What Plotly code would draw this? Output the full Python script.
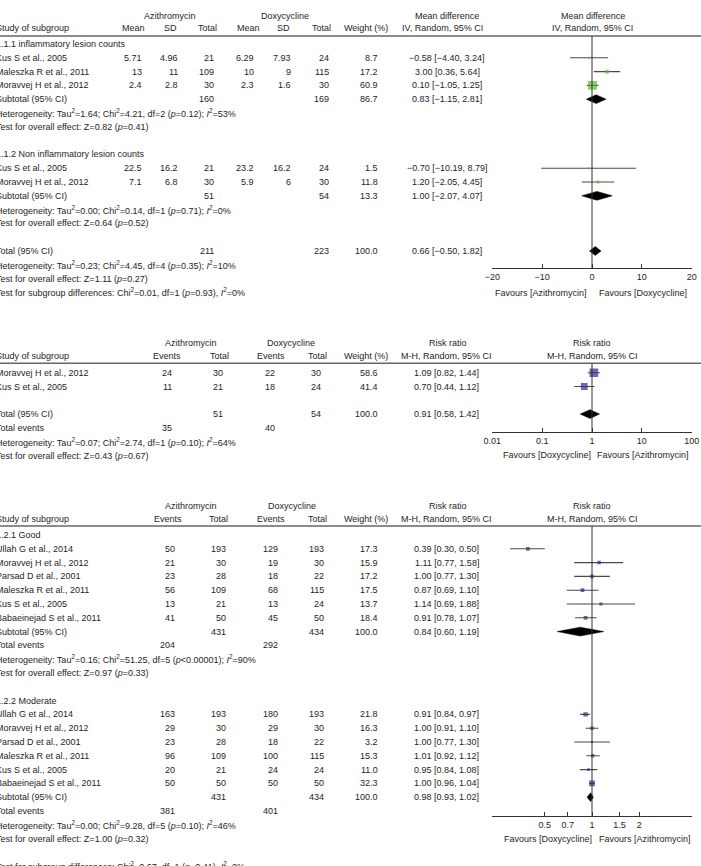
import math
import plotly.graph_objects as go

# ---------------- DATA ----------------
# Panel 1: mean difference (lesion counts)
md_g1_study = ["Kus S et al., 2005", "Maleszka R et al., 2011", "Moravvej H et al., 2012"]
md_g1_azi_mean = [5.71, 13, 2.4]
md_g1_azi_sd = [4.96, 11, 2.8]
md_g1_azi_n = [21, 109, 30]
md_g1_dox_mean = [6.29, 10, 2.3]
md_g1_dox_sd = [7.93, 9, 1.6]
md_g1_dox_n = [24, 115, 30]
md_g1_weight = [8.7, 17.2, 60.9]
md_g1_est = [-0.58, 3.00, 0.10]
md_g1_lo = [-4.40, 0.36, -1.05]
md_g1_hi = [3.24, 5.64, 1.25]

md_g2_study = ["Kus S et al., 2005", "Moravvej H et al., 2012"]
md_g2_azi_mean = [22.5, 7.1]
md_g2_azi_sd = [16.2, 6.8]
md_g2_azi_n = [21, 30]
md_g2_dox_mean = [23.2, 5.9]
md_g2_dox_sd = [16.2, 6]
md_g2_dox_n = [24, 30]
md_g2_weight = [1.5, 11.8]
md_g2_est = [-0.70, 1.20]
md_g2_lo = [-10.19, -2.05]
md_g2_hi = [8.79, 4.45]

md_pool_label = ["Subtotal (95% CI)", "Subtotal (95% CI)", "Total (95% CI)"]
md_pool_azi_n = [160, 51, 211]
md_pool_dox_n = [169, 54, 223]
md_pool_weight = [86.7, 13.3, 100.0]
md_pool_est = [0.83, 1.00, 0.66]
md_pool_lo = [-1.15, -2.07, -0.50]
md_pool_hi = [2.81, 4.07, 1.82]

md_subgroups = ["1.1.1 inflammatory lesion counts", "1.1.2 Non inflammatory lesion counts"]
md_het = [
    "Heterogeneity: Tau<sup>2</sup>=1.64; Chi<sup>2</sup>=4.21, df=2 (<i>p</i>=0.12); <i>I</i><sup>2</sup>=53%",
    "Heterogeneity: Tau<sup>2</sup>=0.00; Chi<sup>2</sup>=0.14, df=1 (<i>p</i>=0.71); <i>I</i><sup>2</sup>=0%",
    "Heterogeneity: Tau<sup>2</sup>=0.23; Chi<sup>2</sup>=4.45, df=4 (<i>p</i>=0.35); <i>I</i><sup>2</sup>=10%",
]
md_test = [
    "Test for overall effect: Z=0.82 (<i>p</i>=0.41)",
    "Test for overall effect: Z=0.64 (<i>p</i>=0.52)",
    "Test for overall effect: Z=1.11 (<i>p</i>=0.27)",
]
md_subdiff = "Test for subgroup differences: Chi<sup>2</sup>=0.01, df=1 (<i>p</i>=0.93), <i>I</i><sup>2</sup>=0%"
md_ticks = [-20, -10, 0, 10, 20]
md_ticktext = ["\u221220", "\u221210", "0", "10", "20"]

# Panel 2: risk ratio
rr_study = ["Moravvej H et al., 2012", "Kus S et al., 2005"]
rr_azi_ev = [24, 11]
rr_azi_n = [30, 21]
rr_dox_ev = [22, 18]
rr_dox_n = [30, 24]
rr_weight = [58.6, 41.4]
rr_est = [1.09, 0.70]
rr_lo = [0.82, 0.44]
rr_hi = [1.44, 1.12]
rr_tot_azi_n, rr_tot_dox_n = 51, 54
rr_tot_azi_ev, rr_tot_dox_ev = 35, 40
rr_tot_weight, rr_tot_est, rr_tot_lo, rr_tot_hi = 100.0, 0.91, 0.58, 1.42
rr_het = "Heterogeneity: Tau<sup>2</sup>=0.07; Chi<sup>2</sup>=2.74, df=1 (<i>p</i>=0.10); <i>I</i><sup>2</sup>=64%"
rr_test = "Test for overall effect: Z=0.43 (<i>p</i>=0.67)"
rr_ticks = [0.01, 0.1, 1, 10, 100]
rr_ticktext = ["0.01", "0.1", "1", "10", "100"]

# Panel 3: risk ratio by subgroup
sg_study = ["Ullah G et al., 2014", "Moravvej H et al., 2012", "Parsad D et al., 2001",
            "Maleszka R et al., 2011", "Kus S et al., 2005", "Babaeinejad S et al., 2011"]
good_azi_ev = [50, 21, 23, 56, 13, 41]
good_azi_n = [193, 30, 28, 109, 21, 50]
good_dox_ev = [129, 19, 18, 68, 13, 45]
good_dox_n = [193, 30, 22, 115, 24, 50]
good_weight = [17.3, 15.9, 17.2, 17.5, 13.7, 18.4]
good_est = [0.39, 1.11, 1.00, 0.87, 1.14, 0.91]
good_lo = [0.30, 0.77, 0.77, 0.69, 0.69, 0.78]
good_hi = [0.50, 1.58, 1.30, 1.10, 1.88, 1.07]

mod_azi_ev = [163, 29, 23, 96, 20, 50]
mod_azi_n = [193, 30, 28, 109, 21, 50]
mod_dox_ev = [180, 29, 18, 100, 24, 50]
mod_dox_n = [193, 30, 22, 115, 24, 50]
mod_weight = [21.8, 16.3, 3.2, 15.3, 11.0, 32.3]
mod_est = [0.91, 1.00, 1.00, 1.01, 0.95, 1.00]
mod_lo = [0.84, 0.91, 0.77, 0.92, 0.84, 0.96]
mod_hi = [0.97, 1.10, 1.30, 1.12, 1.08, 1.04]

sg_names = ["1.2.1 Good", "1.2.2 Moderate"]
sg_sub_azi_n = [431, 431]
sg_sub_dox_n = [434, 434]
sg_sub_azi_ev = [204, 381]
sg_sub_dox_ev = [292, 401]
sg_sub_weight = [100.0, 100.0]
sg_sub_est = [0.84, 0.98]
sg_sub_lo = [0.60, 0.93]
sg_sub_hi = [1.19, 1.02]
sg_het = [
    "Heterogeneity: Tau<sup>2</sup>=0.16; Chi<sup>2</sup>=51.25, df=5 (<i>p</i>&lt;0.00001); <i>I</i><sup>2</sup>=90%",
    "Heterogeneity: Tau<sup>2</sup>=0.00; Chi<sup>2</sup>=9.28, df=5 (<i>p</i>=0.10); <i>I</i><sup>2</sup>=46%",
]
sg_test = [
    "Test for overall effect: Z=0.97 (<i>p</i>=0.33)",
    "Test for overall effect: Z=1.00 (<i>p</i>=0.32)",
]
sg_subdiff = "Test for subgroup differences: Chi<sup>2</sup>=0.67, df=1 (<i>p</i>=0.41), <i>I</i><sup>2</sup>=0%"
sg_ticks = [0.5, 0.7, 1, 1.5, 2]
sg_ticktext = ["0.5", "0.7", "1", "1.5", "2"]

# ---------------- LAYOUT / STYLE ----------------
W, H = 701, 866
FONT = "Arial, Liberation Sans, sans-serif"
TXT = "#1e1e1e"
GREEN = "#58b82d"
NAVY = "#2e2b88"
CILINE = "#4a4a4a"
S = 13.8          # row pitch in px
LEFT = -4         # study-name column (partly cropped in the reference)
PX0, PX1 = 492.3, 691.7
DH = 0.32         # diamond half height (rows)

P1 = dict(h1=16, h2=28, rule=36, r0=44, axis=268.3)
P2 = dict(h1=343.3, h2=356, rule=363.3, r0=372.7, axis=432.3)
P3 = dict(h1=506, h2=519, rule=526, r0=535, axis=815.7)

ann = []
shapes = []


def put(x, y, s, anchor="left"):
    ann.append(dict(xref="paper", yref="paper", x=x / W, y=1 - y / H, text=s,
                    showarrow=False, xanchor=anchor, yanchor="middle",
                    borderpad=0, borderwidth=0,
                    font=dict(family=FONT, size=9, color=TXT)))


def rowy(P, i):
    return P["r0"] + i * S


def num(v):
    return f"{v:g}"


def ci(e, l, h):
    return f"{e:.2f} [{l:.2f}, {h:.2f}]".replace("-", "\u2212")


def msize(w):
    return max(2.0, 0.5 * w ** 0.7)


fig = go.Figure()


def add_studies(xa, ya, rows, est, lo, hi, wts, color):
    xs, ys = [], []
    for r, l, h in zip(rows, lo, hi):
        xs += [l, h, None]
        ys += [r, r, None]
    fig.add_trace(go.Scatter(x=xs, y=ys, mode="lines", xaxis=xa, yaxis=ya,
                             line=dict(color=CILINE, width=1.1), hoverinfo="skip"))
    fig.add_trace(go.Scatter(x=est, y=rows, mode="markers", xaxis=xa, yaxis=ya,
                             marker=dict(symbol="square", color=color,
                                         size=[msize(w) for w in wts], line=dict(width=0))))


def add_diamond(xa, ya, row, e, l, h):
    fig.add_trace(go.Scatter(x=[l, e, h, e, l], y=[row, row - DH, row, row + DH, row],
                             mode="lines", fill="toself", fillcolor="black",
                             line=dict(color="black", width=0.5), xaxis=xa, yaxis=ya,
                             hoverinfo="skip"))


def rule(P):
    shapes.append(dict(type="line", xref="paper", yref="paper", x0=0, x1=1,
                       y0=1 - P["rule"] / H, y1=1 - P["rule"] / H,
                       line=dict(color="#666666", width=1.5)))


# ---------- Panel 1 ----------
P = P1
put(170, P["h1"], "Azithromycin", "center")
put(285, P["h1"], "Doxycycline", "center")
put(446.7, P["h1"], "Mean difference", "center")
put(592.5, P["h1"], "Mean difference", "center")
put(LEFT, P["h2"], "Study of subgroup")
for x, s in [(133.3, "Mean"), (170.7, "SD"), (207.5, "Total"), (248.7, "Mean"),
             (283, "SD"), (321.7, "Total"), (366.3, "Weight (%)"),
             (442, "IV, Random, 95% CI"), (592.5, "IV, Random, 95% CI")]:
    put(x, P["h2"], s, "center")
rule(P)

groups1 = [
    (md_g1_study, md_g1_azi_mean, md_g1_azi_sd, md_g1_azi_n, md_g1_dox_mean, md_g1_dox_sd,
     md_g1_dox_n, md_g1_weight, md_g1_est, md_g1_lo, md_g1_hi),
    (md_g2_study, md_g2_azi_mean, md_g2_azi_sd, md_g2_azi_n, md_g2_dox_mean, md_g2_dox_sd,
     md_g2_dox_n, md_g2_weight, md_g2_est, md_g2_lo, md_g2_hi),
]
r = 0
for gi, g in enumerate(groups1):
    study, am, asd, an, dm, dsd, dn, wt, est, lo, hi = g
    put(LEFT, rowy(P, r), md_subgroups[gi])
    r += 1
    rows = []
    for k in range(len(study)):
        y = rowy(P, r)
        put(LEFT, y, study[k])
        put(142, y, num(am[k]), "right")
        put(178, y, num(asd[k]), "right")
        put(214, y, num(an[k]), "right")
        put(254, y, num(dm[k]), "right")
        put(291, y, num(dsd[k]), "right")
        put(329, y, num(dn[k]), "right")
        put(378.3, y, f"{wt[k]:.1f}", "right")
        put(447, y, ci(est[k], lo[k], hi[k]), "center")
        rows.append(r)
        r += 1
    add_studies("x", "y", rows, est, lo, hi, wt, GREEN)
    y = rowy(P, r)
    put(LEFT, y, md_pool_label[gi])
    put(214, y, num(md_pool_azi_n[gi]), "right")
    put(329, y, num(md_pool_dox_n[gi]), "right")
    put(378.3, y, f"{md_pool_weight[gi]:.1f}", "right")
    put(447, y, ci(md_pool_est[gi], md_pool_lo[gi], md_pool_hi[gi]), "center")
    add_diamond("x", "y", r, md_pool_est[gi], md_pool_lo[gi], md_pool_hi[gi])
    r += 1
    put(LEFT, rowy(P, r), md_het[gi]); r += 1
    put(LEFT, rowy(P, r), md_test[gi]); r += 2
y = rowy(P, r)
put(LEFT, y, md_pool_label[2])
put(214, y, num(md_pool_azi_n[2]), "right")
put(329, y, num(md_pool_dox_n[2]), "right")
put(378.3, y, f"{md_pool_weight[2]:.1f}", "right")
put(447, y, ci(md_pool_est[2], md_pool_lo[2], md_pool_hi[2]), "center")
add_diamond("x", "y", r, md_pool_est[2], md_pool_lo[2], md_pool_hi[2])
r += 1
put(LEFT, rowy(P, r), md_het[2]); r += 1
put(LEFT, rowy(P, r), md_test[2]); r += 1
put(LEFT, rowy(P, r), md_subdiff)
put(587, 293.3, "Favours [Azithromycin]", "right")
put(599, 293.3, "Favours [Doxycycline]", "left")

# ---------- Panel 2 ----------
P = P2
put(190.8, P["h1"], "Azithromycin", "center")
put(290.8, P["h1"], "Doxycycline", "center")
put(447.7, P["h1"], "Risk ratio", "center")
put(592.3, P["h1"], "Risk ratio", "center")
put(LEFT, P["h2"], "Study of subgroup")
for x, s in [(167, "Events"), (219.2, "Total"), (270.5, "Events"), (317, "Total"),
             (366.3, "Weight (%)"), (446.7, "M-H, Random, 95% CI"), (592.8, "M-H, Random, 95% CI")]:
    put(x, P["h2"], s, "center")
rule(P)
rows = []
for k in range(len(rr_study)):
    y = rowy(P, k)
    put(LEFT, y, rr_study[k])
    put(171.7, y, num(rr_azi_ev[k]), "right")
    put(222.7, y, num(rr_azi_n[k]), "right")
    put(275.3, y, num(rr_dox_ev[k]), "right")
    put(321, y, num(rr_dox_n[k]), "right")
    put(378.3, y, f"{rr_weight[k]:.1f}", "right")
    put(446.5, y, ci(rr_est[k], rr_lo[k], rr_hi[k]), "center")
    rows.append(k)
add_studies("x2", "y2", rows, rr_est, rr_lo, rr_hi, rr_weight, NAVY)
r = len(rr_study) + 1
y = rowy(P, r)
put(LEFT, y, "Total (95% CI)")
put(222.7, y, num(rr_tot_azi_n), "right")
put(321, y, num(rr_tot_dox_n), "right")
put(378.3, y, f"{rr_tot_weight:.1f}", "right")
put(446.5, y, ci(rr_tot_est, rr_tot_lo, rr_tot_hi), "center")
add_diamond("x2", "y2", r, rr_tot_est, rr_tot_lo, rr_tot_hi)
r += 1
y = rowy(P, r)
put(LEFT, y, "Total events")
put(171.7, y, num(rr_tot_azi_ev), "right")
put(275.3, y, num(rr_tot_dox_ev), "right")
r += 1
put(LEFT, rowy(P, r), rr_het); r += 1
put(LEFT, rowy(P, r), rr_test)
put(591, 455, "Favours [Doxycycline]", "right")
put(597, 455, "Favours [Azithromycin]", "left")

# ---------- Panel 3 ----------
P = P3
put(191, P["h1"], "Azithromycin", "center")
put(291.7, P["h1"], "Doxycycline", "center")
put(447.7, P["h1"], "Risk ratio", "center")
put(592.3, P["h1"], "Risk ratio", "center")
put(LEFT, P["h2"], "Study of subgroup")
for x, s in [(167.5, "Events"), (218.8, "Total"), (270.5, "Events"), (317.5, "Total"),
             (366.3, "Weight (%)"), (446.7, "M-H, Random, 95% CI"), (592.8, "M-H, Random, 95% CI")]:
    put(x, P["h2"], s, "center")
rule(P)
groups3 = [
    (good_azi_ev, good_azi_n, good_dox_ev, good_dox_n, good_weight, good_est, good_lo, good_hi),
    (mod_azi_ev, mod_azi_n, mod_dox_ev, mod_dox_n, mod_weight, mod_est, mod_lo, mod_hi),
]
r = 0
for gi, g in enumerate(groups3):
    aev, an, dev, dn, wt, est, lo, hi = g
    put(LEFT, rowy(P, r), sg_names[gi]); r += 1
    rows = []
    for k in range(len(sg_study)):
        y = rowy(P, r)
        put(LEFT, y, sg_study[k])
        put(175, y, num(aev[k]), "right")
        put(226, y, num(an[k]), "right")
        put(277.7, y, num(dev[k]), "right")
        put(324, y, num(dn[k]), "right")
        put(378.3, y, f"{wt[k]:.1f}", "right")
        put(446.5, y, ci(est[k], lo[k], hi[k]), "center")
        rows.append(r)
        r += 1
    add_studies("x3", "y3", rows, est, lo, hi, wt, NAVY)
    y = rowy(P, r)
    put(LEFT, y, "Subtotal (95% CI)")
    put(226, y, num(sg_sub_azi_n[gi]), "right")
    put(324, y, num(sg_sub_dox_n[gi]), "right")
    put(378.3, y, f"{sg_sub_weight[gi]:.1f}", "right")
    put(446.5, y, ci(sg_sub_est[gi], sg_sub_lo[gi], sg_sub_hi[gi]), "center")
    add_diamond("x3", "y3", r, sg_sub_est[gi], sg_sub_lo[gi], sg_sub_hi[gi])
    r += 1
    y = rowy(P, r)
    put(LEFT, y, "Total events")
    put(175, y, num(sg_sub_azi_ev[gi]), "right")
    put(277.7, y, num(sg_sub_dox_ev[gi]), "right")
    r += 1
    put(LEFT, rowy(P, r), sg_het[gi]); r += 1
    put(LEFT, rowy(P, r), sg_test[gi]); r += 2
put(LEFT, rowy(P, r), sg_subdiff)
put(592.3, 839, "Favours [Doxycycline]", "right")
put(599.3, 839, "Favours [Azithromycin]", "left")


# ---------- axes ----------
def yax(P):
    return dict(domain=[1 - P["axis"] / H, 1 - P["rule"] / H],
                range=[(P["axis"] - P["r0"]) / S, (P["rule"] - P["r0"]) / S],
                visible=False, showgrid=False, zeroline=False, fixedrange=True,
                automargin=False)


def xax(anchor, **kw):
    d = dict(domain=[PX0 / W, PX1 / W], anchor=anchor, showline=True, linecolor="#333333",
             linewidth=1, ticks="inside", ticklen=4, tickwidth=1, tickcolor="#333333",
             showgrid=False, zeroline=False, tickfont=dict(family=FONT, size=9, color=TXT),
             tickmode="array", automargin=False)
    d.update(kw)
    return d


layout_axes = dict(
    xaxis=xax("y", range=[md_ticks[0], md_ticks[-1]], tickvals=md_ticks, ticktext=md_ticktext),
    yaxis=yax(P1),
    xaxis2=xax("y2", type="log", range=[math.log10(rr_ticks[0]), math.log10(rr_ticks[-1])],
               tickvals=rr_ticks, ticktext=rr_ticktext),
    yaxis2=yax(P2),
    xaxis3=xax("y3", type="log", range=[-0.636, 0.636], tickvals=sg_ticks, ticktext=sg_ticktext),
    yaxis3=yax(P3),
)

for xr, yr, x0 in [("x", "y domain", 0), ("x2", "y2 domain", 1), ("x3", "y3 domain", 1)]:
    shapes.append(dict(type="line", xref=xr, yref=yr, x0=x0, x1=x0, y0=0, y1=1,
                       line=dict(color="#333333", width=1)))

fig.update_layout(template="none", width=W, height=H,
                  margin=dict(l=0, r=0, t=0, b=0, pad=0, autoexpand=False),
                  paper_bgcolor="white", plot_bgcolor="rgba(0,0,0,0)",
                  showlegend=False, annotations=ann, shapes=shapes,
                  font=dict(family=FONT, size=9, color=TXT), **layout_axes)

fig.write_html("out.html")
